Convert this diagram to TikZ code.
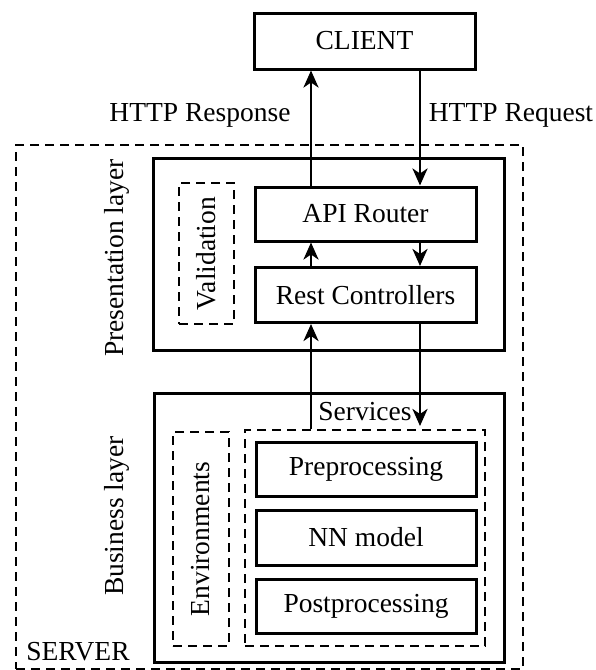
\documentclass[tikz,border=0pt]{standalone}
\usepackage{fontspec}
\setmainfont{Liberation Serif}
\usetikzlibrary{arrows.meta}
\begin{document}
\begin{tikzpicture}[x=1pt,y=-1pt,
  every node/.style={font=\fontsize{27.5}{32}\selectfont},
  box/.style={draw, line width=3pt, inner sep=0pt},
  dbox/.style={draw, line width=2.8pt, dash pattern=on 9pt off 6pt, inner sep=0pt},
  txt/.style={inner sep=0pt},
  arr/.style={line width=2.8pt, -{Stealth[length=17pt,width=15pt,inset=5pt]}}]
\useasboundingbox (0,0) rectangle (595,670);

% server and layers
\node[dbox, minimum width=507pt, minimum height=524pt] (server) at (269.5,407) {};
\node[box, minimum width=351pt, minimum height=192pt] (pres) at (328.5,254) {};
\node[box, minimum width=350pt, minimum height=269pt] (bus) at (329,527.5) {};

% client
\node[box, minimum width=221pt, minimum height=56pt] (client) at (364.5,41) {CLIENT};

% presentation layer
\node[dbox, minimum width=55pt, minimum height=141pt] (valid) at (206.5,253.5) {};
\node[txt, rotate=90] (validtxt) at (206,253.5) {Validation};
\node[box, minimum width=221pt, minimum height=54pt] (api) at (365.5,214) {API Router};
\node[box, minimum width=221pt, minimum height=55pt] (rest) at (365.5,295) {Rest Controllers};
\node[txt, rotate=90] (prestxt) at (117,258) {Presentation layer};

% business layer
\node[dbox, minimum width=56pt, minimum height=214pt] (env) at (201,539) {};
\node[txt, rotate=90] (envtxt) at (201,539) {Environments};
\node[dbox, minimum width=240pt, minimum height=216pt] (svc) at (365,538) {};
\node[txt] (svctxt) at (365,412) {Services};
\node[box, minimum width=220pt, minimum height=54pt] (pre) at (366,469) {Preprocessing};
\node[box, minimum width=220pt, minimum height=55pt] (nn) at (366,537.5) {NN model};
\node[box, minimum width=220pt, minimum height=54pt] (post) at (366,606) {Postprocessing};
\node[txt, rotate=90] (bustxt) at (117,516) {Business layer};
\node[txt] (servertxt) at (78,652) {SERVER};

% labels of the HTTP exchange
\node[txt] (resp) at (200,115) {HTTP Response};
\node[txt] (req) at (511,115) {HTTP Request};

% arrow columns
\coordinate (xL) at (311,0);
\coordinate (xR) at (420,0);
\coordinate (svcin) at (420,426);

\draw[arr] (api.north -| xL) -- (client.south -| xL);
\draw[arr] (client.south -| xR) -- (api.north -| xR);
\draw[arr] (rest.north -| xL) -- (api.south -| xL);
\draw[arr] (api.south -| xR) -- (rest.north -| xR);
\draw[arr] (svc.north -| xL) -- (rest.south -| xL);
\draw[arr] (rest.south -| xR) -- (svcin);
\end{tikzpicture}
\end{document}
